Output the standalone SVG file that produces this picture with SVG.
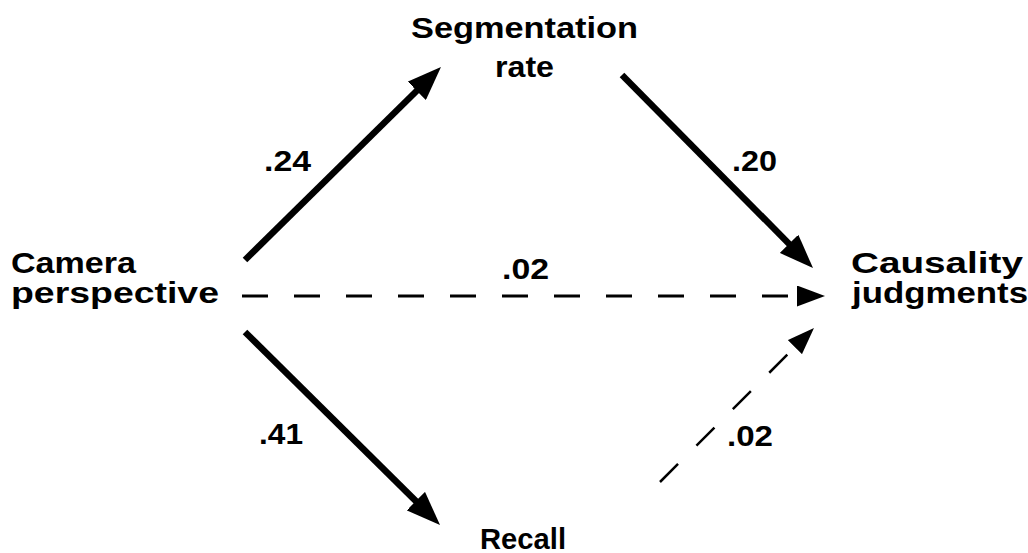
<svg xmlns="http://www.w3.org/2000/svg" width="1028" height="553" viewBox="0 0 1028 553">
  <style>
    .lbl { font-family: "Liberation Sans", Arial, sans-serif; font-weight: bold; font-size: 30px; fill: #000; }
    .solid { stroke: #000; stroke-width: 6.5; fill: none; }
    .dash1 { stroke: #000; stroke-width: 3; fill: none; stroke-dasharray: 26 26; }
    .dash2 { stroke: #000; stroke-width: 2.5; fill: none; stroke-dasharray: 25.5 26; }
  </style>
  <defs>
    <marker id="headSolid" markerUnits="userSpaceOnUse" markerWidth="34" markerHeight="26" refX="4" refY="13" orient="auto">
      <path d="M0,0 L34,13 L0,26 z" fill="#000"/>
    </marker>
    <marker id="headDash" markerUnits="userSpaceOnUse" markerWidth="28" markerHeight="21" refX="0" refY="10.5" orient="auto">
      <path d="M0,0 L28,10.5 L0,21 z" fill="#000"/>
    </marker>
    <marker id="headDash2" markerUnits="userSpaceOnUse" markerWidth="27" markerHeight="20" refX="0" refY="10" orient="auto">
      <path d="M0,0 L27,10 L0,20 z" fill="#000"/>
    </marker>
  </defs>
  <rect width="1028" height="553" fill="#fff"/>

  <g id="connectors">
    <line class="solid" x1="245" y1="260" x2="419.6" y2="88" marker-end="url(#headSolid)"/>
    <line class="solid" x1="622" y1="75" x2="791.9" y2="246.7" marker-end="url(#headSolid)"/>
    <line class="solid" x1="245" y1="332" x2="418.7" y2="503.9" marker-end="url(#headSolid)"/>
    <line class="dash1" x1="242" y1="296" x2="797" y2="296" marker-end="url(#headDash)"/>
    <line class="dash2" x1="660" y1="482" x2="794.9" y2="347.1" marker-end="url(#headDash2)"/>
    <text class="lbl" x="264" y="171" textLength="47" lengthAdjust="spacingAndGlyphs">.24</text>
    <text class="lbl" x="732" y="171" textLength="45" lengthAdjust="spacingAndGlyphs">.20</text>
    <text class="lbl" x="502" y="279" textLength="47" lengthAdjust="spacingAndGlyphs">.02</text>
    <text class="lbl" x="259" y="444" textLength="44" lengthAdjust="spacingAndGlyphs">.41</text>
    <text class="lbl" x="727" y="446" textLength="46" lengthAdjust="spacingAndGlyphs">.02</text>
  </g>

  <g id="node-segmentation">
    <text class="lbl" x="411" y="38" textLength="227" lengthAdjust="spacingAndGlyphs">Segmentation</text>
    <text class="lbl" x="495" y="77" textLength="59" lengthAdjust="spacingAndGlyphs">rate</text>
  </g>
  <g id="node-camera">
    <text class="lbl" x="11" y="273" textLength="125" lengthAdjust="spacingAndGlyphs">Camera</text>
    <text class="lbl" x="11" y="303" textLength="208" lengthAdjust="spacingAndGlyphs">perspective</text>
  </g>
  <g id="node-causality">
    <text class="lbl" x="851" y="273" textLength="172" lengthAdjust="spacingAndGlyphs">Causality</text>
    <text class="lbl" x="852" y="303" textLength="176" lengthAdjust="spacingAndGlyphs">judgments</text>
  </g>
  <g id="node-recall">
    <text class="lbl" x="480" y="549" textLength="86" lengthAdjust="spacingAndGlyphs">Recall</text>
  </g>
</svg>
